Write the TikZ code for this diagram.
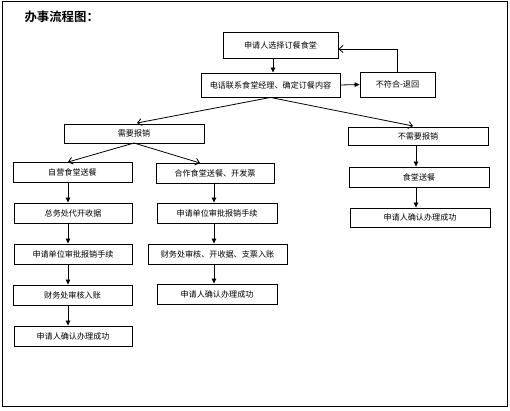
\documentclass[tikz,border=0pt]{standalone}
\usepackage{fontspec}
\newfontfamily\cjk{Noto Sans CJK SC}
\newfontfamily\cjkb{Noto Sans CJK SC Bold}
\usetikzlibrary{arrows.meta}
\tikzset{
  box/.style={draw, line width=0.9pt, inner sep=0pt, font=\cjk\fontsize{8.1}{9.5}\selectfont},
  farrow/.style={line width=0.8pt, -{Triangle[length=5pt,width=4.5pt]}},
  oarrow/.style={line width=0.8pt, -{Straight Barb[length=4pt,width=7pt]}},
}
\begin{document}
\begin{tikzpicture}[x=1pt,y=-1pt]
\useasboundingbox (0,0) rectangle (510,410);
\draw[line width=0.9pt] (2.5,1.5) rectangle (507.5,406.5);
\node[anchor=west, font=\cjkb\fontsize{12.4}{14}\selectfont] (title) at (21,17) {办事流程图：};

\node[box, minimum width=115pt, minimum height=26pt] (b1) at (280.5,45) {申请人选择订餐食堂};
\node[box, minimum width=139pt, minimum height=24pt] (b2) at (270.5,85) {电话联系食堂经理、确定订餐内容};
\node[box, minimum width=75pt, minimum height=25pt] (b3) at (397.5,84.5) {不符合-退回};
\node[box, minimum width=140pt, minimum height=19pt] (b4) at (134,133.5) {需要报销};
\node[box, minimum width=140pt, minimum height=18pt] (b5) at (418,136) {不需要报销};
\node[box, minimum width=140pt, minimum height=20pt] (b6) at (419,177) {食堂送餐};
\node[box, minimum width=140pt, minimum height=19pt] (b7) at (420,217.5) {申请人确认办理成功};
\node[box, minimum width=119pt, minimum height=20pt] (b8) at (72.5,172) {自营食堂送餐};
\node[box, minimum width=118pt, minimum height=20pt] (b9) at (215,173) {合作食堂送餐、开发票};
\node[box, minimum width=118pt, minimum height=20pt] (b10) at (73,213) {总务处代开收据};
\node[box, minimum width=120pt, minimum height=20pt] (b11) at (217,213) {申请单位审批报销手续};
\node[box, minimum width=118pt, minimum height=20pt] (b12) at (73,254) {申请单位审批报销手续};
\node[box, minimum width=139pt, minimum height=20pt] (b13) at (217.5,254) {财务处审核、开收据、支票入账};
\node[box, minimum width=119pt, minimum height=20pt] (b14) at (72.5,295) {财务处审核入账};
\node[box, minimum width=120pt, minimum height=20pt] (b15) at (217,294) {申请人确认办理成功};
\node[box, minimum width=118pt, minimum height=20pt] (b16) at (73,336) {申请人确认办理成功};

\coordinate (cl) at (68,0);
\coordinate (cm) at (214,0);
\coordinate (cr) at (416,0);
\coordinate (ct) at (273,0);
\coordinate (fb) at (0,49);
\coordinate (e4) at (137,123);
\coordinate (e5) at (413,126);
\coordinate (s4) at (134,143);
\coordinate (e8) at (68,162);
\coordinate (e9) at (200,163);

\draw[farrow] (b1.south -| ct) -- (b2.north -| ct);
\draw[farrow] (b2.east) -- (b3.west);
\draw[oarrow] (b3.north) -- (b3.north |- fb) -- (b1.east |- fb);
\draw[oarrow] (b2.south) -- (e4);
\draw[oarrow] (b2.south) -- (e5);
\draw[oarrow] (s4) -- (e8);
\draw[oarrow] (s4) -- (e9);

\draw[farrow] (b8.south -| cl) -- (b10.north -| cl);
\draw[farrow] (b10.south -| cl) -- (b12.north -| cl);
\draw[farrow] (b12.south -| cl) -- (b14.north -| cl);
\draw[farrow] (b14.south -| cl) -- (b16.north -| cl);

\draw[farrow] (b9.south -| cm) -- (b11.north -| cm);
\draw[farrow] (b11.south -| cm) -- (b13.north -| cm);
\draw[farrow] (b13.south -| cm) -- (b15.north -| cm);

\draw[farrow] (b5.south -| cr) -- (b6.north -| cr);
\draw[farrow] (b6.south -| cr) -- (b7.north -| cr);
\end{tikzpicture}
\end{document}
